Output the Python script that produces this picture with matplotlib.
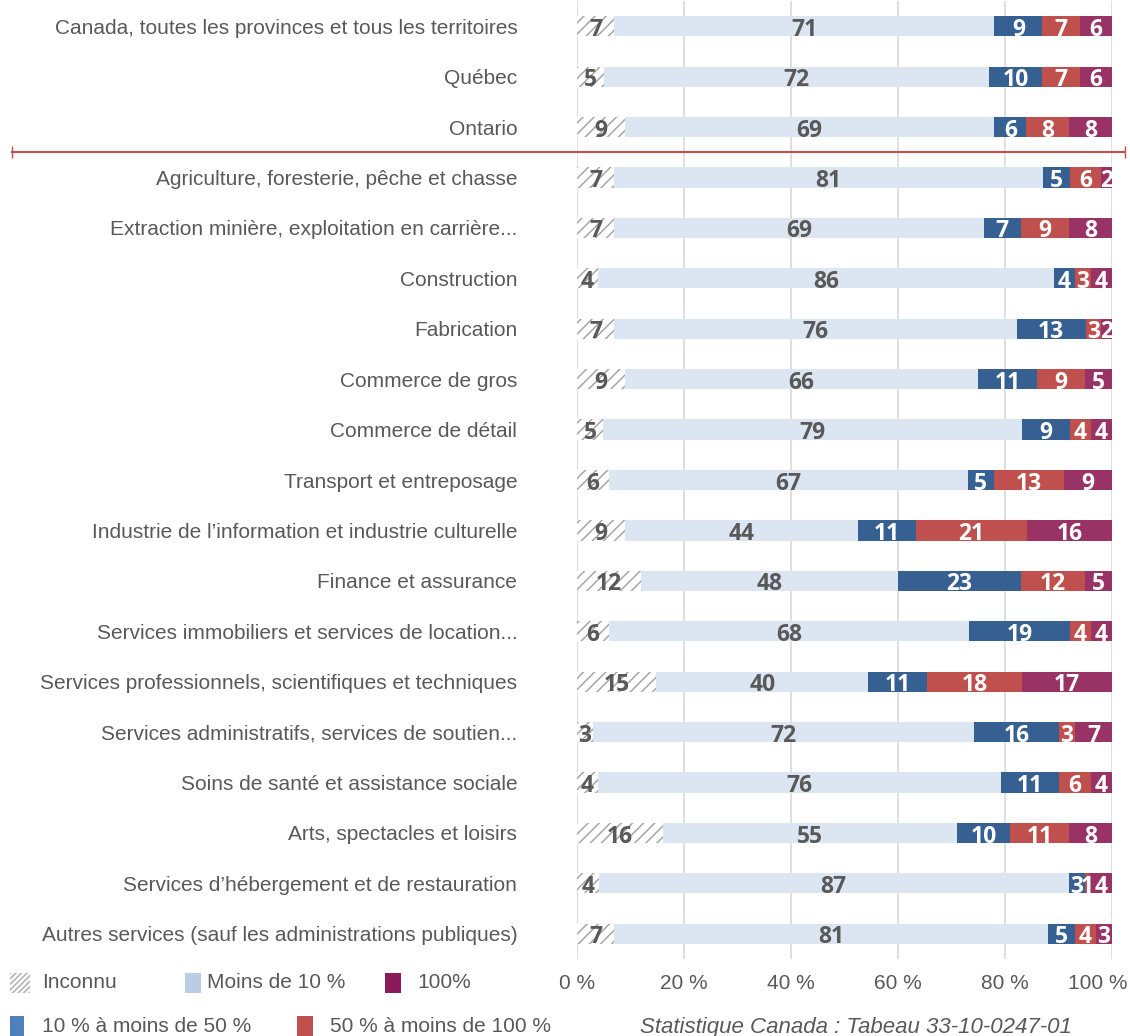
import matplotlib
matplotlib.use("Agg")
import matplotlib.pyplot as plt
import matplotlib.transforms as mtransforms
from matplotlib.patches import Rectangle
import numpy as np

categories = [
    "Canada, toutes les provinces et tous les territoires",
    "Québec",
    "Ontario",
    "Agriculture, foresterie, pêche et chasse",
    "Extraction minière, exploitation en carrière...",
    "Construction",
    "Fabrication",
    "Commerce de gros",
    "Commerce de détail",
    "Transport et entreposage",
    "Industrie de l’information et industrie culturelle",
    "Finance et assurance",
    "Services immobiliers et services de location...",
    "Services professionnels, scientifiques et techniques",
    "Services administratifs, services de soutien...",
    "Soins de santé et assistance sociale",
    "Arts, spectacles et loisirs",
    "Services d’hébergement et de restauration",
    "Autres services (sauf les administrations publiques)",
]
inconnu     = [7, 5, 9, 7, 7, 4, 7, 9, 5, 6, 9, 12, 6, 15, 3, 4, 16, 4, 7]
moins_10    = [71, 72, 69, 81, 69, 86, 76, 66, 79, 67, 44, 48, 68, 40, 72, 76, 55, 87, 81]
de10_a50    = [9, 10, 6, 5, 7, 4, 13, 11, 9, 5, 11, 23, 19, 11, 16, 11, 10, 3, 5]
de50_a100   = [7, 7, 8, 6, 9, 3, 3, 9, 4, 13, 21, 12, 4, 18, 3, 6, 11, 1, 4]
cent        = [6, 6, 8, 2, 8, 4, 2, 5, 4, 9, 16, 5, 4, 17, 7, 4, 8, 4, 3]
tick_values = [0, 20, 40, 60, 80, 100]
tick_labels = ["0 %", "20 %", "40 %", "60 %", "80 %", "100 %"]
series_names = ["Inconnu", "Moins de 10 %", "10 % à moins de 50 %", "50 % à moins de 100 %", "100%"]

W, H = 1130, 1036
fig = plt.figure(figsize=(W / 100, H / 100), dpi=100)
ax = fig.add_axes([577 / W, 1 - 959 / H, (1112 - 577) / W, 958 / H])

plt.rcParams["hatch.linewidth"] = 1.1
TXT = "#595959"

series = [np.array(s, dtype=float) for s in (inconnu, moins_10, de10_a50, de50_a100, cent)]
totals = sum(series)
norm = [s / totals * 100 for s in series]
bar_colors = ["white", "#DCE6F2", "#376092", "#C0504D", "#993366"]
txt_colors = ["#595959", "#595959", "white", "white", "white"]
y = np.arange(len(categories))
left = np.zeros(len(categories))
bh = 0.40
for i, (vals, raw) in enumerate(zip(norm, series)):
    if i == 0:
        ax.barh(y, vals, left=left, height=bh, color="white", edgecolor="#A6A6A6",
                linewidth=0, hatch="///", zorder=2)
    else:
        ax.barh(y, vals, left=left, height=bh, color=bar_colors[i], linewidth=0, zorder=2)
    for j in range(len(y)):
        ax.text(left[j] + vals[j] / 2, y[j] + 0.19, f"{int(raw[j])}", ha="center", va="baseline",
                color=txt_colors[i], fontsize=16.5, fontweight="bold", family="Open Sans", zorder=3)
    left = left + vals

ax.set_xlim(0, 100)
ax.set_ylim(len(categories) - 0.5, -0.5)
ax.set_yticks(y)
ax.set_yticklabels(categories, fontsize=15, color=TXT, family="Liberation Sans")
ax.set_xticks(tick_values)
ax.set_xticklabels(tick_labels, fontsize=15, color=TXT, family="Liberation Sans")
ax.tick_params(axis="y", length=0, pad=43)
ax.tick_params(axis="x", length=0, pad=11)
last = ax.get_xticklabels()[-1]
last.set_horizontalalignment("right")
last.set_transform(last.get_transform() + mtransforms.ScaledTranslation(15 / 100, 0, fig.dpi_scale_trans))
for s in ax.spines.values():
    s.set_visible(False)
ax.grid(axis="x", color="#D9D9D9", linewidth=1.2, zorder=0)
ax.set_axisbelow(True)

# separator line between regions and industries
trans = mtransforms.blended_transform_factory(fig.transFigure, ax.transData)
ax.plot([12 / W, 1125 / W], [2.5, 2.5], transform=trans, color="#C0504D", lw=1.5,
        clip_on=False, zorder=4)
ax.plot([12 / W, 1125 / W], [2.5, 2.5], transform=trans, color="#C0504D", lw=1.2,
        ls="none", marker="|", markersize=8, clip_on=False, zorder=4)

# legend
leg_items = [
    (10, 983, 20, "Inconnu", None, 42),
    (185, 983, 16, "Moins de 10 %", "#B9CDE5", 207),
    (385, 983, 16, "100%", "#8B1A5A", 417),
    (10, 1026, 14, "10 % à moins de 50 %", "#4F81BD", 42),
    (297, 1026, 16, "50 % à moins de 100 %", "#C0504D", 330),
]
for x0, yc, w, label, col, tx in leg_items:
    hgt = 20
    if col is None:
        r = Rectangle((x0 / W, 1 - (yc + hgt / 2) / H), w / W, hgt / H, transform=fig.transFigure,
                      facecolor="white", edgecolor="#B0B0B0", linewidth=0, hatch="//////")
    else:
        r = Rectangle((x0 / W, 1 - (yc + hgt / 2) / H), w / W, hgt / H, transform=fig.transFigure,
                      facecolor=col, linewidth=0)
    fig.add_artist(r)
    fig.text(tx / W, 1 - yc / H, label, fontsize=15, color=TXT, va="center", ha="left",
             family="Liberation Sans")

fig.text(640 / W, 1 - 1027 / H, "Statistique Canada : Tabeau 33-10-0247-01", fontsize=16,
         style="italic", color=TXT, va="center", ha="left", family="Liberation Sans")

fig.savefig("out.png", dpi=100)
